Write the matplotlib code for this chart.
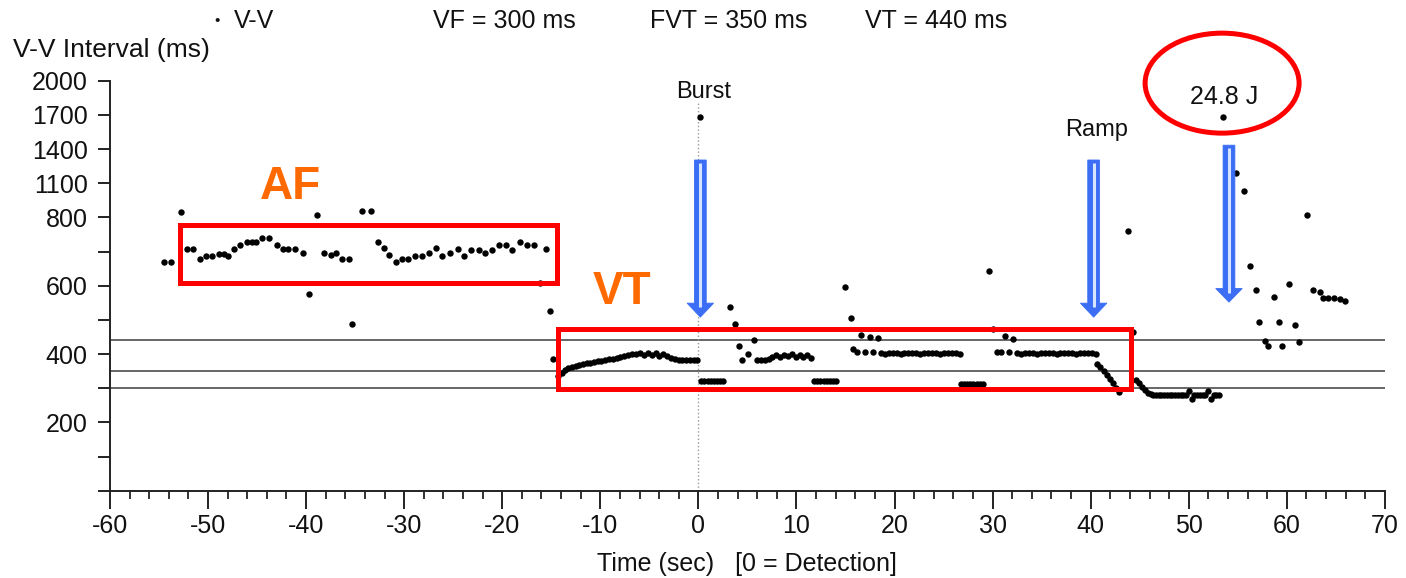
import numpy as np
import matplotlib
matplotlib.use('Agg')
import matplotlib.pyplot as plt
from matplotlib.patches import Rectangle, Ellipse, Polygon
from matplotlib.ticker import MultipleLocator

plt.rcParams['font.family'] = ['Liberation Sans', 'DejaVu Sans']
plt.rcParams['axes.unicode_minus'] = False

# ---- data read off the stored ICD episode ----
# thresholds (ms)
vf_zone = 300
fvt_zone = 350
vt_zone = 440

# scattered V-V points (time s, interval ms) before detection (AF)
af_t = [-54.5, -53.8, -52.8, -52.1, -51.5, -50.8, -50.2, -49.6, -48.9, -48.4,
        -48.0, -47.4, -46.7, -46.0, -45.5, -45.1, -44.5, -43.8, -43.0, -42.4,
        -41.8, -41.1, -40.3, -39.7, -38.9, -38.2, -37.5, -37.0, -36.3, -35.6,
        -35.3, -34.3, -33.4, -32.7, -32.1, -31.5, -30.8, -30.2, -29.6, -28.9,
        -28.2, -27.5, -26.8, -26.1, -25.3, -24.5, -23.9, -23.2, -22.4, -21.8,
        -21.0, -20.3, -19.6, -19.0, -18.2, -17.5, -16.8, -16.2, -15.5, -15.1, -14.8]
af_vv = [670, 670, 844, 708, 708, 678, 686, 688, 692, 694,
         687, 707, 718, 727, 729, 729, 739, 739, 720, 708,
         708, 708, 697, 576, 817, 697, 690, 695, 677, 677,
         488, 858, 858, 727, 709, 691, 670, 678, 678, 688,
         688, 697, 710, 687, 697, 708, 686, 706, 706, 695,
         706, 719, 719, 706, 727, 719, 719, 607, 707, 526, 385]

# scattered points after detection
post_t = [0.2, 3.2, 3.7, 4.1, 4.45, 5.1, 5.65, 14.9, 15.55, 15.75,
          16.15, 16.55, 17.0, 17.45, 17.85, 18.35, 29.6, 30.0, 30.4, 30.9,
          31.3, 31.7, 32.1, 43.8, 44.35, 53.45, 54.8, 55.6, 56.2, 56.9,
          57.2, 57.8, 58.1, 58.7, 59.2, 59.5, 60.2, 60.8, 61.2, 62.1,
          62.7, 63.4, 63.7, 64.2, 64.8, 65.4, 65.9]
post_vv = [1680, 537, 487, 425, 383, 400, 440, 595, 507, 416,
           406, 456, 405, 450, 405, 448, 644, 473, 407, 407,
           453, 407, 445, 759, 464, 1680, 1190, 1030, 657, 587,
           495, 439, 425, 566, 495, 425, 606, 484, 435, 825,
           587, 581, 565, 564, 565, 560, 555]

# consecutive runs: start time and V-V intervals of each beat
vt1_t0 = -14.3
vt1_vv = [335, 345, 352, 358, 363, 366, 369, 371, 373, 375, 377, 379, 381,
          383, 385, 387, 389, 391, 393, 396, 399, 401, 402, 398, 404, 396,
          402, 395, 400, 393, 388, 385, 384, 383, 383, 382, 382, 382]
burst1_t0 = 0.3
burst1_vv = [322, 322, 322, 322, 322, 322, 322, 322]
vt2_t0 = 6.0
vt2_vv = [383, 383, 384, 386, 392, 396, 390, 398, 394, 400, 392, 398, 390, 396, 388]
burst2_t0 = 11.8
burst2_vv = [322, 322, 322, 322, 322, 322, 322, 322]
vt3_t0 = 18.6
vt3_vv = [402, 401, 402, 403, 402, 401, 402, 402, 403, 402, 401,
          402, 402, 403, 402, 401, 402, 402, 403, 402, 401]
burst3_t0 = 26.8
burst3_vv = [312, 312, 312, 312, 312, 312, 312, 312]
vt4_t0 = 32.5
vt4_vv = [402, 401, 402, 403, 402, 401, 402, 402, 403, 402, 401,
          402, 402, 403, 402, 401, 402, 402, 403, 402, 401]
ramp_t0 = 40.6
ramp_vv = [372, 362, 350, 338, 326, 314, 302, 290]
vt5_t0 = 44.6
vt5_vv = [325, 315, 305, 295, 285]
vt6_t0 = 46.1
vt6_vv = [282, 280, 281, 279, 280, 281, 280, 279, 281, 280, 280, 281, 279,
          280, 292, 268, 281, 280, 279, 281, 280, 292, 268, 280, 281, 280]

runs = [(vt1_t0, vt1_vv), (burst1_t0, burst1_vv), (vt2_t0, vt2_vv),
        (burst2_t0, burst2_vv), (vt3_t0, vt3_vv), (burst3_t0, burst3_vv),
        (vt4_t0, vt4_vv), (ramp_t0, ramp_vv), (vt5_t0, vt5_vv), (vt6_t0, vt6_vv)]

y_ticks = [0, 100, 200, 300, 400, 500, 600, 700, 800, 1100, 1400, 1700, 2000]
y_labels = ['', '', '200', '', '400', '', '600', '', '800', '1100', '1400', '1700', '2000']


def fwd(v):
    v = np.asarray(v, dtype=float)
    return np.where(v <= 800, v / 100.0, 8 + (v - 800) / 300.0)


def inv(s):
    s = np.asarray(s, dtype=float)
    return np.where(s <= 8, s * 100.0, 800 + (s - 8) * 300.0)


def beat_times(t0, vv):
    vv = np.asarray(vv, dtype=float)
    return t0 + np.concatenate([[0.0], np.cumsum(vv[1:])]) / 1000.0


ink = '#111111'

fig = plt.figure(figsize=(14.06, 5.78), dpi=100)
ax = fig.add_axes([0.0782, 0.151, 0.9068, 0.7093])
ax.set_yscale('function', functions=(fwd, inv))
ax.set_xlim(-60, 70)
ax.set_ylim(0, 2000)

# zone lines
for z in (vt_zone, fvt_zone, vf_zone):
    ax.axhline(z, color='#5a5a5a', lw=1.3, zorder=1)

# detection marker
ax.plot([0, 0], [0, 1812], ls=':', color='#9a9a9a', lw=1.0, zorder=1)

dot = dict(ls='none', marker='o', ms=4.6, color='black', mew=0, zorder=3)
ax.plot(af_t, af_vv, **dot)
ax.plot(post_t, post_vv, **dot)
for t0, vv in runs:
    ax.plot(beat_times(t0, vv), vv, **dot)

# axes look
for s in ('top', 'right'):
    ax.spines[s].set_visible(False)
for s in ('left', 'bottom'):
    ax.spines[s].set_linewidth(1.4)
    ax.spines[s].set_color('#222222')

ax.set_yticks(y_ticks)
ax.set_yticklabels(y_labels)
ax.yaxis.set_minor_locator(plt.NullLocator())
ax.xaxis.set_major_locator(MultipleLocator(10))
ax.xaxis.set_minor_locator(MultipleLocator(2))
ax.tick_params(axis='y', direction='out', length=9, width=1.3, labelsize=18, pad=7, colors=ink)
ax.tick_params(axis='x', which='major', direction='out', length=13, width=1.3, labelsize=18, pad=4, colors=ink)
ax.tick_params(axis='x', which='minor', direction='out', length=6, width=1.2, colors=ink)
ax.set_xlabel('Time (sec)   [0 = Detection]', fontsize=18, labelpad=10, color=ink)

# header texts
fig.text(217 / 1406, 1 - 21 / 578, '•', fontsize=11, ha='center', va='center', color=ink)
fig.text(234 / 1406, 1 - 21 / 578, 'V-V', fontsize=18, ha='left', va='center', color=ink)
fig.text(433 / 1406, 1 - 21 / 578, f'VF = {vf_zone} ms', fontsize=18, ha='left', va='center', color=ink)
fig.text(650 / 1406, 1 - 21 / 578, f'FVT = {fvt_zone} ms', fontsize=18, ha='left', va='center', color=ink)
fig.text(865 / 1406, 1 - 21 / 578, f'VT = {vt_zone} ms', fontsize=18, ha='left', va='center', color=ink)
fig.text(13 / 1406, 1 - 50 / 578, 'V-V Interval (ms)', fontsize=19, ha='left', va='center', color=ink)

# therapy labels
ax.text(0.5, 1901, 'Burst', fontsize=17, ha='center', va='center', color=ink, clip_on=False)
ax.text(40.6, 1567, 'Ramp', fontsize=17, ha='center', va='center', color=ink, clip_on=False)
ax.text(53.6, 1856, '24.8 J', fontsize=18, ha='center', va='center', color=ink, clip_on=False)

# annotation overlay
red = '#ff0000'
orange = '#ff6a00'
blue = '#3b6ef5'
light = '#d6e4ff'

ax.add_patch(Rectangle((-52.87, 609), 38.44, 170, fill=False, ec=red, lw=3.6, zorder=4))
ax.add_patch(Rectangle((-14.33, 299), 58.43, 173, fill=False, ec=red, lw=3.6, zorder=4))
ax.add_patch(Ellipse((53.4, 1979), 15.7, 878, fill=False, ec=red, lw=3.6, zorder=4, clip_on=False))

ax.text(-41.6, 1067, 'AF', fontsize=33, fontweight='bold', color=orange, ha='center', va='center')
ax.text(-7.75, 581, 'VT', fontsize=33, fontweight='bold', color=orange, ha='center', va='center')


def hollow_arrow(t, top, head, tip):
    w, hw = 0.6, 1.35
    pts = [(t - w, top), (t + w, top), (t + w, head), (t + hw, head),
           (t, tip), (t - hw, head), (t - w, head)]
    ax.add_patch(Polygon(pts, closed=True, fc=blue, ec=blue, lw=0.6, zorder=5, clip_on=False))
    ax.plot([t, t], [top - 25, head - 12], color=light, lw=2.2, zorder=6,
            solid_capstyle='butt', clip_on=False)


hollow_arrow(0.2, 1304, 549, 508)
hollow_arrow(40.3, 1304, 549, 508)
hollow_arrow(54.1, 1434, 592, 552)

fig.savefig('out.png', dpi=100)
